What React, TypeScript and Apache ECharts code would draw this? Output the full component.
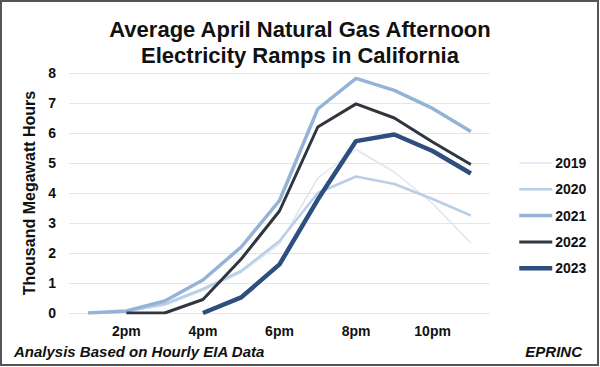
import React, { useEffect, useRef } from "react";
import * as echarts from "echarts";

const hours = ["1pm", "2pm", "3pm", "4pm", "5pm", "6pm", "7pm", "8pm", "9pm", "10pm", "11pm"];
const y2019 = [0, 0.05, 0.25, 0.75, 1.35, 2.3, 4.5, 5.45, 4.7, 3.65, 2.33];
const y2020 = [0, 0.05, 0.3, 0.8, 1.4, 2.4, 4.0, 4.55, 4.3, 3.8, 3.25];
const y2021 = [0, 0.07, 0.4, 1.1, 2.2, 3.75, 6.8, 7.82, 7.42, 6.82, 6.05];
const y2022 = [null, 0, 0, 0.45, 1.8, 3.4, 6.2, 6.97, 6.5, 5.7, 4.95];
const y2023 = [null, null, null, 0, 0.52, 1.62, 3.78, 5.73, 5.95, 5.4, 4.65];
const seriesNames = ["2019", "2020", "2021", "2022", "2023"];
const titleText = "Average April Natural Gas Afternoon\nElectricity Ramps in California";
const yAxisName = "Thousand Megawatt Hours";
const sourceText = "Analysis Based on Hourly EIA Data";
const creditText = "EPRINC";

const FONT = "'Liberation Sans', Arial, sans-serif";
const TXT = "#111";

export default function App() {
  const ref = useRef<HTMLDivElement>(null);
  useEffect(() => {
    document.body.style.margin = "0";
    const chart = echarts.init(ref.current!, null, { renderer: "svg" });
    const data = [y2019, y2020, y2021, y2022, y2023];
    const colors = ["#dce6f2", "#bacfe6", "#95b3d7", "#30363f", "#2e4f7e"];
    const widths = [1.5, 2.5, 3.5, 3, 4.5];
    chart.setOption({
      animation: false,
      backgroundColor: "#fff",
      textStyle: { fontFamily: FONT },
      title: {
        text: titleText,
        left: "center",
        top: 11,
        textStyle: { fontSize: 22, fontWeight: "bold", color: TXT, lineHeight: 26, fontFamily: FONT },
      },
      grid: { left: 69, right: 110, top: 73, bottom: 54, containLabel: false },
      legend: {
        orient: "vertical",
        left: 512,
        top: 151,
        itemWidth: 33,
        itemHeight: 14,
        itemGap: 12.3,
        data: seriesNames.map((n, i) => ({ name: n, lineStyle: { width: widths[i], color: colors[i] } })),
        itemStyle: { opacity: 0 },
        textStyle: { fontSize: 14, fontWeight: "bold", color: TXT, fontFamily: FONT, padding: [0, 0, 0, -2] },
      },
      xAxis: {
        type: "category",
        data: hours,
        boundaryGap: true,
        axisLine: { show: false },
        axisTick: { show: false },
        axisLabel: {
          interval: (i: number) => i % 2 === 1,
          fontSize: 14,
          fontWeight: "bold",
          color: TXT,
          margin: 11,
          fontFamily: FONT,
        },
      },
      yAxis: {
        type: "value",
        min: 0,
        max: 8,
        interval: 1,
        name: yAxisName,
        nameLocation: "middle",
        nameGap: 20,
        nameTextStyle: { fontSize: 16, fontWeight: "bold", color: TXT, fontFamily: FONT },
        axisLabel: { fontSize: 14, fontWeight: "bold", color: TXT, margin: 13, fontFamily: FONT },
        splitLine: { lineStyle: { color: "#e6e6e6", width: 1 } },
      },
      series: seriesNames.map((n, i) => ({
        name: n,
        type: "line",
        data: data[i],
        symbol: "none",
        connectNulls: false,
        lineStyle: { color: colors[i], width: widths[i] },
        itemStyle: { color: colors[i] },
        z: 2 + i,
      })),
      graphic: [
        {
          type: "rect",
          shape: { x: 1, y: 1, width: 597, height: 364 },
          style: { fill: "none", stroke: "#555", lineWidth: 2 },
          z: 100,
        },
        {
          type: "text",
          left: 14,
          top: 344,
          style: { text: sourceText, font: `italic bold 15px ${FONT}`, fill: TXT },
        },
        {
          type: "text",
          right: 18,
          top: 344,
          style: { text: creditText, font: `italic bold 15px ${FONT}`, fill: TXT },
        },
      ],
    });
    return () => chart.dispose();
  }, []);
  return <div ref={ref} style={{ width: 600, height: 367 }} />;
}
